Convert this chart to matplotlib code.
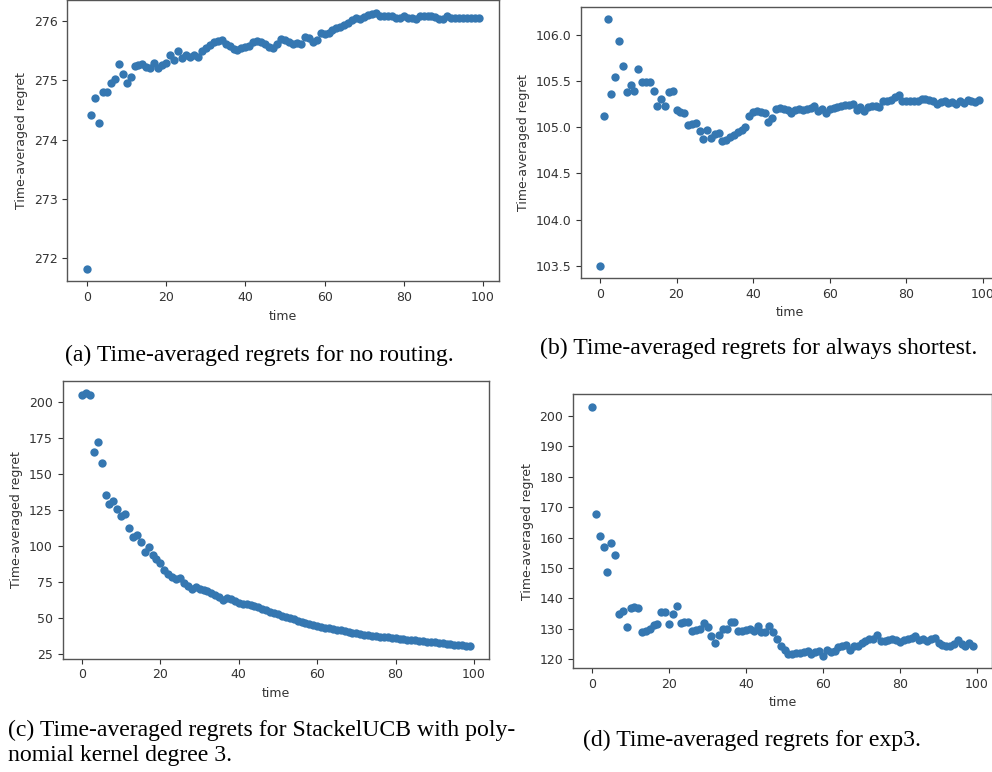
import matplotlib
matplotlib.use("Agg")
import matplotlib.pyplot as plt

time_steps = list(range(100))

regret_no_routing = [
    271.82, 274.42, 274.70, 274.28, 274.80, 274.80, 274.95, 275.02, 275.27, 275.10,
    274.96, 275.06, 275.24, 275.25, 275.27, 275.22, 275.21, 275.30, 275.20, 275.25,
    275.30, 275.42, 275.34, 275.50, 275.38, 275.42, 275.40, 275.42, 275.40, 275.50,
    275.55, 275.60, 275.65, 275.66, 275.68, 275.62, 275.58, 275.53, 275.52, 275.55,
    275.57, 275.58, 275.65, 275.66, 275.65, 275.62, 275.57, 275.54, 275.62, 275.70,
    275.68, 275.64, 275.61, 275.63, 275.62, 275.73, 275.72, 275.64, 275.68, 275.80,
    275.78, 275.80, 275.85, 275.88, 275.90, 275.93, 275.97, 276.01, 276.05, 276.03,
    276.07, 276.10, 276.12, 276.14, 276.09, 276.08, 276.08, 276.08, 276.06, 276.06,
    276.08, 276.06, 276.05, 276.04, 276.08, 276.08, 276.08, 276.08, 276.07, 276.04,
    276.04, 276.08, 276.05, 276.05, 276.05, 276.05, 276.05, 276.05, 276.05, 276.05,
]

regret_shortest = [
    103.50, 105.12, 106.17, 105.36, 105.55, 105.94, 105.66, 105.38, 105.46, 105.39,
    105.63, 105.49, 105.49, 105.49, 105.39, 105.23, 105.31, 105.23, 105.38, 105.39,
    105.19, 105.17, 105.15, 105.03, 105.04, 105.05, 104.96, 104.87, 104.97, 104.88,
    104.93, 104.94, 104.85, 104.86, 104.89, 104.92, 104.95, 104.97, 105.00, 105.12,
    105.17, 105.18, 105.17, 105.15, 105.06, 105.10, 105.20, 105.21, 105.20, 105.19,
    105.15, 105.19, 105.20, 105.19, 105.20, 105.21, 105.23, 105.18, 105.20, 105.16,
    105.20, 105.21, 105.22, 105.23, 105.24, 105.24, 105.25, 105.19, 105.22, 105.18,
    105.22, 105.23, 105.23, 105.22, 105.28, 105.29, 105.30, 105.33, 105.35, 105.28,
    105.28, 105.29, 105.29, 105.29, 105.31, 105.31, 105.30, 105.28, 105.25, 105.27,
    105.29, 105.26, 105.27, 105.25, 105.28, 105.26, 105.30, 105.29, 105.27, 105.30,
]

regret_stackelucb = [
    205.0, 206.0, 205.0, 165.5, 172.4, 157.4, 135.4, 129.2, 131.2, 125.5,
    120.8, 122.0, 112.7, 106.5, 107.6, 103.0, 96.0, 99.5, 93.8, 91.0,
    88.0, 83.3, 80.6, 78.7, 77.1, 77.5, 74.5, 72.5, 70.0, 71.8,
    70.0, 69.5, 69.0, 67.5, 66.0, 64.5, 62.5, 64.0, 63.5, 61.5,
    60.5, 60.0, 59.5, 59.0, 58.5, 58.0, 56.5, 55.3, 54.4, 53.5,
    52.5, 51.5, 50.5, 49.8, 49.3, 48.2, 47.2, 46.3, 45.8, 45.0,
    44.2, 43.7, 43.3, 42.8, 42.4, 41.9, 41.5, 41.0, 40.5, 39.8,
    39.3, 38.9, 38.5, 38.1, 37.7, 37.4, 37.1, 36.9, 36.6, 36.3,
    36.0, 35.6, 35.3, 35.0, 34.7, 34.5, 34.2, 33.9, 33.6, 33.3,
    33.1, 32.9, 32.6, 32.3, 32.0, 31.6, 31.3, 31.0, 30.8, 30.6,
]

regret_exp3 = [
    203.0, 167.9, 160.6, 156.8, 148.6, 158.2, 154.3, 134.9, 135.9, 130.5,
    137.0, 137.1, 137.0, 129.1, 129.4, 130.0, 131.3, 131.6, 135.6, 135.6,
    131.6, 135.0, 137.6, 132.0, 132.1, 132.3, 129.3, 129.5, 130.1, 132.0,
    130.5, 127.6, 125.3, 128.0, 130.0, 130.0, 132.2, 132.2, 129.3, 129.3,
    129.6, 129.8, 129.3, 131.0, 129.0, 129.1, 130.8, 129.0, 126.5, 124.5,
    123.0, 121.6, 121.8, 122.0, 122.2, 122.5, 122.8, 121.8, 122.4, 122.8,
    121.2, 123.0, 122.3, 122.6, 124.0, 124.3, 124.7, 123.1, 124.5, 124.2,
    125.4, 126.1, 126.6, 126.7, 127.8, 126.0, 126.0, 126.3, 126.5, 126.2,
    125.7, 126.4, 126.8, 126.9, 127.5, 126.3, 126.5, 126.0, 126.5, 127.0,
    125.2, 124.8, 124.4, 124.4, 125.0, 126.2, 125.0, 124.2, 125.4, 124.3,
]

captions = [
    "(a) Time-averaged regrets for no routing.",
    "(b) Time-averaged regrets for always shortest.",
    "(c) Time-averaged regrets for StackelUCB with poly-\nnomial kernel degree 3.",
    "(d) Time-averaged regrets for exp3.",
]

W, H = 992, 772
fig = plt.figure(figsize=(W / 100, H / 100), dpi=100)

def add_ax(left, top, right, bottom):
    return fig.add_axes([left / W, 1 - bottom / H, (right - left) / W, (bottom - top) / H])

boxes = [
    (67.4, 0.0, 498.6, 281.4),
    (581.0, 7.0, 998.0, 278.0),
    (62.6, 380.7, 489.5, 658.6),
    (573.0, 394.4, 992.2, 668.0),
]
series = [regret_no_routing, regret_shortest, regret_stackelucb, regret_exp3]

dot_color = "#3577b1"
for box, ys in zip(boxes, series):
    ax = add_ax(*box)
    ax.scatter(time_steps, ys, s=36, color=dot_color, linewidths=0)
    ax.set_xlabel("time", fontsize=9, color="#333333")
    ax.set_ylabel("Time-averaged regret", fontsize=9, color="#333333")
    ax.tick_params(labelsize=9, colors="#333333")
    for sp in ax.spines.values():
        sp.set_color("#555555")
        sp.set_linewidth(1.0)

serif = ["Liberation Serif", "DejaVu Serif"]
cap_size = 17.1
fig.text(259 / W, 1 - 355 / H, captions[0], ha="center", va="center",
         family=serif, fontsize=cap_size)
fig.text(759 / W, 1 - 348 / H, captions[1], ha="center", va="center",
         family=serif, fontsize=cap_size)
fig.text(8 / W, 1 - 743 / H, captions[2], ha="left", va="center",
         family=serif, fontsize=cap_size, linespacing=1.2)
fig.text(752 / W, 1 - 740 / H, captions[3], ha="center", va="center",
         family=serif, fontsize=cap_size)

fig.savefig("out.png", dpi=100)
